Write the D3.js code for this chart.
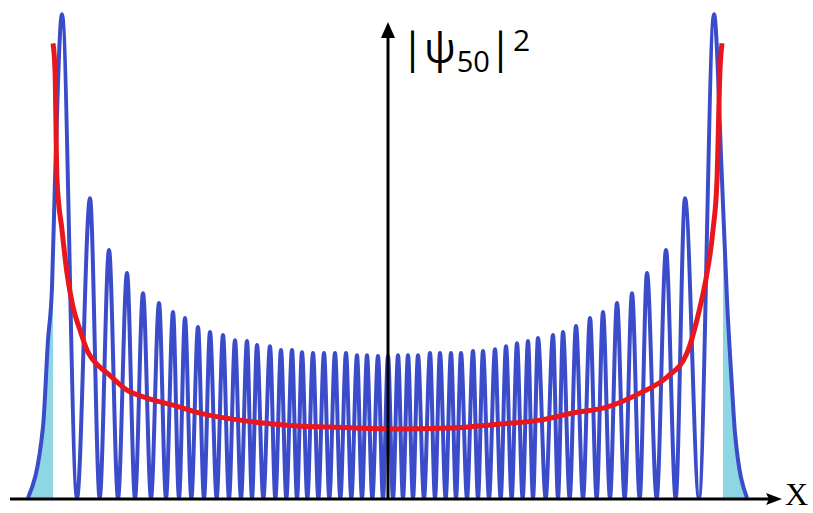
<!DOCTYPE html>
<meta charset="utf-8">
<style>body{margin:0;background:#fff;}</style>
<body>
<script src="https://cdn.jsdelivr.net/npm/d3@7"></script>
<script>

var width = 813,
    height = 513,
    turning = 10.05; // classical turning point, sqrt(2n+1)

// maxima of |psi_50|^2 (oscillator units)
var peakX = [-9.78,-8.94,-8.37,-7.83,-7.35,-6.87,-6.45,-6.09,-5.70,-5.34,-4.95,-4.59,-4.23,-3.93,-3.54,-3.21,-2.88,-2.58,-2.25,-1.92,-1.59,-1.26,-0.93,-0.63,-0.30,
             0,
             0.30,0.60,0.90,1.26,1.56,1.89,2.19,2.55,2.85,3.21,3.54,3.87,4.20,4.50,4.95,5.25,5.64,6.06,6.45,6.87,7.32,7.77,8.34,8.91,9.78];
var peakY = [0.2255,0.1398,0.1156,0.1049,0.0955,0.0909,0.0867,0.0839,0.0797,0.0774,0.0760,0.0736,0.0732,0.0713,0.0708,0.0690,0.0690,0.0680,0.0676,0.0676,0.0676,0.0676,0.0666,0.0666,0.0662,
             0.0662,
             0.0666,0.0666,0.0666,0.0676,0.0676,0.0676,0.0676,0.0685,0.0685,0.0694,0.0708,0.0722,0.0732,0.0746,0.0760,0.0774,0.0802,0.0839,0.0867,0.0909,0.0955,0.1049,0.1156,0.1398,0.2255];
// nodes (zeros) between the maxima
var nodeX = [-9.33,-8.65,-8.10,-7.59,-7.11,-6.66,-6.27,-5.90,-5.52,-5.14,-4.77,-4.41,-4.08,-3.74,-3.38,-3.05,-2.73,-2.42,-2.09,-1.76,-1.43,-1.10,-0.78,-0.47,-0.15,
             0.15,0.45,0.75,1.08,1.41,1.73,2.04,2.37,2.70,3.03,3.38,3.71,4.04,4.35,4.73,5.10,5.45,5.85,6.26,6.66,7.10,7.55,8.06,8.63,9.33];
// tails in the classically forbidden region
var tailLeftX = [-10.80,-10.35,-10.20,-10.08,-9.99],
    tailLeftY = [0,0.0331,0.0736,0.0983,0.1482];
var tailRightX = [10.02,10.17,10.32,10.41,10.77],
    tailRightY = [0.1482,0.0923,0.0517,0.0303,0];

// classical probability density
var classX = [-10.05,-9.99,-9.93,-9.78,-9.63,-9.45,-9.24,-9.03,-8.64,-8.43,-7.83,-7.23,-6.45,-5.64,-4.44,-3.75,-2.73,-1.74,0,
              1.86,3.36,4.56,5.55,6.57,7.56,8.37,8.97,9.36,9.57,9.75,9.87,9.96,10.02];
var classY = [0.2120,0.1995,0.1482,0.1249,0.1048,0.0890,0.0783,0.0690,0.0610,0.0583,0.0503,0.0466,0.0433,0.0396,0.0363,0.0350,0.0336,0.0331,0.0322,
              0.0326,0.0345,0.0363,0.0396,0.0424,0.0489,0.0564,0.0676,0.0890,0.1048,0.1249,0.1482,0.1995,0.2120];

var x = d3.scaleLinear().domain([-turning, turning]).range([53, 723]),
    y = d3.scaleLinear().domain([0, 0.2]).range([498, 69]);

var blue = [];
tailLeftX.forEach(function(v, i) { blue.push([v, tailLeftY[i]]); });
peakX.forEach(function(v, i) { blue.push([v, peakY[i]]); });
nodeX.forEach(function(v) { blue.push([v, 0]); });
tailRightX.forEach(function(v, i) { blue.push([v, tailRightY[i]]); });
blue.sort(function(a, b) { return a[0] - b[0]; });

var red = classX.map(function(v, i) { return [v, classY[i]]; });

var svg = d3.select("body").append("svg")
    .attr("width", width)
    .attr("height", height);

var defs = svg.append("defs");
var clip = defs.append("clipPath").attr("id", "forbidden");
clip.append("rect").attr("x", 0).attr("y", 0)
    .attr("width", x(-turning)).attr("height", height);
clip.append("rect").attr("x", x(turning)).attr("y", 0)
    .attr("width", width - x(turning)).attr("height", height);

// shaded tunnelling region
svg.append("path")
    .datum(blue)
    .attr("clip-path", "url(#forbidden)")
    .attr("fill", "#8fd6e4")
    .attr("d", d3.area()
        .x(d => x(d[0]))
        .y0(y(0))
        .y1(d => y(d[1]))
        .curve(d3.curveMonotoneX));

svg.append("path")
    .datum(blue)
    .attr("fill", "none")
    .attr("stroke", "#3a4cc9")
    .attr("stroke-width", 4)
    .attr("d", d3.line()
        .x(d => x(d[0]))
        .y(d => y(d[1]))
        .curve(d3.curveMonotoneX));

svg.append("path")
    .datum(red)
    .attr("fill", "none")
    .attr("stroke", "#e8161d")
    .attr("stroke-width", 5)
    .attr("stroke-linejoin", "round")
    .attr("d", d3.line()
        .x(d => x(d[0]))
        .y(d => y(d[1]))
        .curve(d3.curveMonotoneX));

// axes
var x0 = x(0), yb = 499;
svg.append("line")
    .attr("x1", 10).attr("x2", 772)
    .attr("y1", yb).attr("y2", yb)
    .attr("stroke", "#000").attr("stroke-width", 3);
svg.append("path")
    .attr("d", "M782," + yb + "L766," + (yb - 6) + "L769," + yb + "L766," + (yb + 6) + "Z")
    .attr("fill", "#000");

svg.append("line")
    .attr("x1", x0).attr("x2", x0)
    .attr("y1", yb).attr("y2", 34)
    .attr("stroke", "#000").attr("stroke-width", 3);
svg.append("path")
    .attr("d", "M" + x0 + ",22L" + (x0 - 7) + ",38L" + (x0 + 7) + ",38Z")
    .attr("fill", "#000");

svg.append("text")
    .attr("x", 785).attr("y", 505)
    .style("font-family", "Liberation Serif")
    .style("font-size", "32px")
    .text("X");

var lab = svg.append("text")
    .attr("x", 401).attr("y", 63)
    .style("font-family", "Open Sans")
    .style("font-size", "42px")
    .style("fill", "#000");
lab.append("tspan").text("|ψ");
lab.append("tspan").attr("dy", 9).attr("dx", 1).style("font-size", "29px").text("50");
lab.append("tspan").attr("dy", -9).attr("dx", -1).text("|");
lab.append("tspan").attr("dy", -12).attr("dx", 1).style("font-size", "30px").text("2");

</script>
